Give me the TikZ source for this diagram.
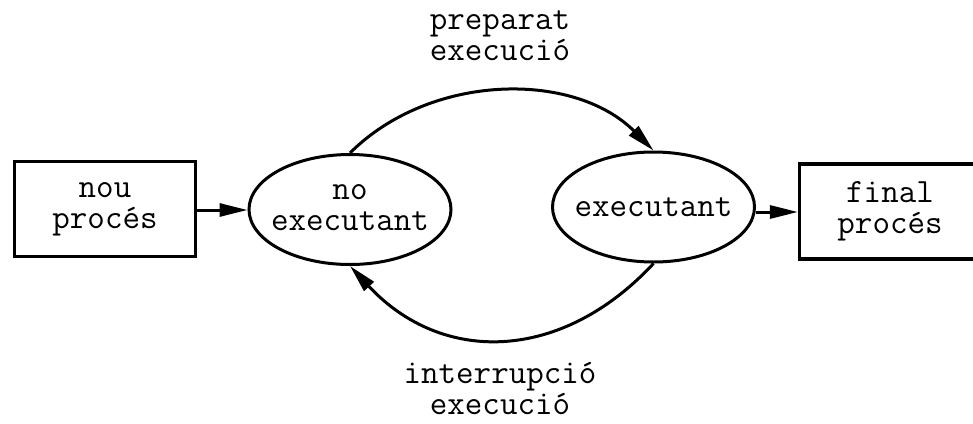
\documentclass[tikz,border=0pt]{standalone}
\usepackage{fontspec}
\usetikzlibrary{shapes.geometric,arrows.meta}
\begin{document}
\begin{tikzpicture}[x=1pt,y=-1pt,
  every node/.style={font=\ttfamily\fontsize{34}{31}\selectfont, align=center, inner sep=1pt},
  procbox/.style={draw, line width=3.2pt, minimum width=181pt, minimum height=95pt, inner sep=0pt},
  statebox/.style={draw, ellipse, line width=3pt, minimum width=202pt, minimum height=110pt, inner sep=0pt},
  flow/.style={line width=3pt, -{Triangle[length=28pt,width=13pt]}}]
\useasboundingbox (0,0) rectangle (973,423);
% external boxes
\node[procbox] (nou) at (105,209) {nou\\procés};
\node[procbox] (fin) at (890,211.5) {final\\procés};
% states
\node[statebox] (noex) at (350,209.5) {};
\node (noext) at (350,208) {no\\executant};
\node[statebox] (ex) at (653.5,207) {};
\node (ext) at (653.5,207) {executant};
% transitions
\draw[flow] (nou.east |- 0,210) -- (noex.west |- 0,210);
\draw[flow] (ex.east |- 0,212) -- (fin.west |- 0,212);
\draw[flow] (noex.north) .. controls +(80,-80) and +(-80,-80) .. (ex.north);
\draw[flow] (ex.south) .. controls +(-92,99) and +(92,99) .. (noex.south);
% transition labels
\node (lbltop) at (500,36) {preparat\\execució};
\node (lblbot) at (500,389) {interrupció\\execució};
\end{tikzpicture}
\end{document}
